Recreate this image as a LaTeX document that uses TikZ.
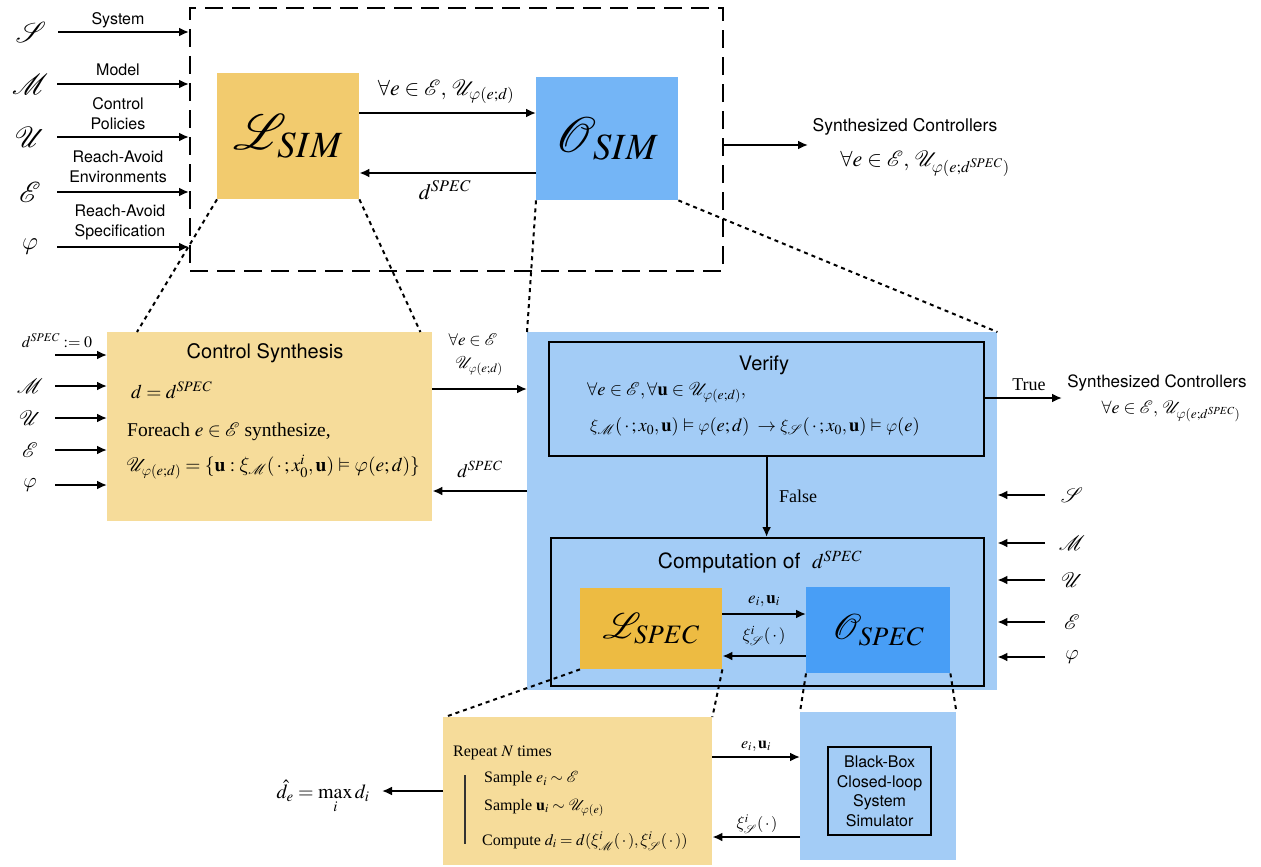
\documentclass[tikz,border=0pt]{standalone}
\IfFileExists{mathptmx.sty}{\usepackage{mathptmx}}{}
\usepackage{amssymb}
\IfFileExists{mathrsfs.sty}{\usepackage{mathrsfs}\DeclareFontFamily{U}{rsfs}{\skewchar\font127 }\DeclareFontShape{U}{rsfs}{m}{n}{<-> rsfs10}{}}{\newcommand{\mathscr}[1]{\mathcal{#1}}}
\DeclareSymbolFont{cmlet}{OML}{cmm}{m}{it}
\DeclareMathSymbol{\varphi}{\mathord}{cmlet}{"27}
\DeclareMathSymbol{\xi}{\mathord}{cmlet}{"18}
\usepackage[no-math]{fontspec}
\setmainfont{Liberation Serif}
\setsansfont{TeX Gyre Heros}
\usetikzlibrary{arrows.meta,calc}
\definecolor{lsimc}{RGB}{242,203,110}
\definecolor{osimc}{RGB}{116,181,246}
\definecolor{lightor}{RGB}{246,220,154}
\definecolor{lightbl}{RGB}{163,204,246}
\definecolor{lspecc}{RGB}{237,187,66}
\definecolor{ospecc}{RGB}{72,158,246}
\tikzset{
 arr/.style={line width=2pt,-{Latex[length=10pt,width=9pt]}},
 dots/.style={line width=2pt,dash pattern=on 4pt off 4pt},
 bigdash/.style={line width=2pt,dash pattern=on 18pt off 9pt},
 sflab/.style={font=\sffamily\fontsize{16}{20}\selectfont,align=center,inner sep=0},
 sftitle/.style={font=\sffamily\fontsize{20}{22}\selectfont,inner sep=0},
 sym/.style={font=\fontsize{29}{29}\selectfont,inner sep=0},
 symin/.style={font=\fontsize{21}{21}\selectfont,inner sep=0},
 symsm/.style={font=\fontsize{17}{17}\selectfont,inner sep=0},
 mtxt/.style={font=\fontsize{19.5}{19.5}\selectfont,inner sep=0},
 vtxt/.style={font=\fontsize{18.5}{18.5}\selectfont,inner sep=0},
 stxt/.style={font=\fontsize{16}{16}\selectfont,inner sep=0},
 box/.style={anchor=north west,inner sep=0,draw=none},
 framebox/.style={anchor=north west,inner sep=0,draw=black,line width=2.2pt},
}
\begin{document}
\begin{tikzpicture}[x=1pt,y=-1pt]
\useasboundingbox (0,0) rectangle (1261,867);

% ---------- top level ----------
\node[box,draw=black,bigdash,minimum width=533,minimum height=263] (dbox) at (189,7) {};
\node[box,fill=lsimc,minimum width=142,minimum height=126,font=\fontsize{50}{50}\selectfont] (lsim) at (217,73) {$\mathscr{L}_{SIM}$};
\node[box,fill=osimc,minimum width=142,minimum height=123,font=\fontsize{50}{50}\selectfont] (osim) at (536,77) {$\mathscr{O}_{SIM}$};

\node[sym] (sS) at (31,32) {$\mathscr{S}$};
\node[sym] (sM) at (30,84) {$\mathscr{M}$};
\node[sym] (sU) at (30,137) {$\mathscr{U}$};
\node[sym] (sE) at (30,192) {$\mathscr{E}$};
\node[sym] (sP) at (30,247) {$\varphi$};
\foreach \n in {sS,sM,sU,sE,sP}{
  \draw[arr] (\n.center) ++(27,0) coordinate (\n st) -- (\n st -| dbox.west);
}
\node[sflab] (l1) at (118,20) {System};
\node[sflab] (l2) at (118,70) {Model};
\node[sflab] (l3) at (118,114) {Control\\Policies};
\node[sflab] (l4) at (118,167) {Reach-Avoid\\Environments};
\node[sflab] (l5) at (120,222) {Reach-Avoid\\Specification};

\draw[arr] ($(lsim.north east)+(0,40)$) -- ($(osim.north west)+(0,36)$);
\node[font=\fontsize{22}{22}\selectfont\boldmath,inner sep=0] (tl1) at (446,92) {$\forall e\in\mathscr{E},\,\mathscr{U}_{\varphi(e;d)}$};
\draw[arr] ($(osim.north west)+(0,96)$) -- ($(lsim.north east)+(0,100)$);
\node[font=\fontsize{22}{22}\selectfont,inner sep=0] (tl2) at (445,190) {$d^{SPEC}$};

\coordinate (outend) at (808,145);
\draw[arr] (dbox.east |- outend) -- (outend);
\node[sflab,font=\sffamily\fontsize{17.5}{19}\selectfont] (sc1) at (905,127) {Synthesized Controllers};
\node[font=\fontsize{22}{22}\selectfont,inner sep=0] (sc2) at (925,164) {$\forall e\in\mathscr{E},\,\mathscr{U}_{\varphi(e;d^{SPEC})}$};

% ---------- control synthesis ----------
\node[box,fill=lightor,minimum width=325,minimum height=189] (csyn) at (107,332) {};
\node[sftitle] (cst) at (265,353) {Control Synthesis};
\node[mtxt,anchor=west] (cs1) at (131,390) {$d = d^{SPEC}$};
\node[mtxt,anchor=west] (cs2) at (127,432) {Foreach $e\in\mathscr{E}$ synthesize,};
\node[mtxt,anchor=west] (cs3) at (126,467) {$\mathscr{U}_{\varphi(e;d)} = \{\mathbf{u} : \xi_{\mathscr{M}}(\,\cdot\,; x_0^i, \mathbf{u}) \vDash \varphi(e;d)\}$};

\node[stxt] (d0) at (57,341) {$d^{SPEC} := 0$};
\coordinate (d0a) at (55,355);
\draw[arr] (d0a) -- (d0a -| csyn.west);
\node[symin] (cM) at (30,386) {$\mathscr{M}$};
\node[symin] (cU) at (30,418) {$\mathscr{U}$};
\node[symin] (cE) at (30,450) {$\mathscr{E}$};
\node[symin] (cP) at (30,485) {$\varphi$};
\foreach \n in {cM,cU,cE,cP}{
  \draw[arr] (\n.center) ++(25,0) coordinate (\n st) -- (\n st -| csyn.west);
}

% ---------- big blue ----------
\node[box,fill=lightbl,minimum width=470,minimum height=358] (bbox) at (527,332) {};
\draw[dots] (lsim.south west) -- ($(csyn.north west)+(30,0)$);
\draw[dots] (lsim.south east) -- ($(csyn.north east)+(-12,0)$);
\draw[dots] (osim.south west) -- (bbox.north west);
\draw[dots] (osim.south east) -- (bbox.north east);

\draw[arr] ($(csyn.north east)+(0,57)$) -- ($(bbox.north west)+(0,57)$);
\node[symsm] (ml1) at (473,340) {$\forall e\in\mathscr{E}$};
\node[symsm] (ml2) at (479,366) {$\mathscr{U}_{\varphi(e;d)}$};
\draw[arr] ($(bbox.north west)+(0,159)$) -- ($(csyn.north east)+(0,159)$);
\node[font=\fontsize{19}{19}\selectfont,inner sep=0] (ml3) at (480,469) {$d^{SPEC}$};

\node[framebox,minimum width=435,minimum height=114] (ver) at (548,341) {};
\node[sftitle] (vt) at (764,365) {Verify};
\node[vtxt,anchor=west] (v1) at (587,393) {$\forall e\in\mathscr{E}, \forall \mathbf{u}\in\mathscr{U}_{\varphi(e;d)},$};
\node[vtxt,anchor=west] (v2) at (590,427) {$\xi_{\mathscr{M}}(\,\cdot\,;x_0,\mathbf{u}) \vDash \varphi(e;d) \;\rightarrow \xi_{\mathscr{S}}(\,\cdot\,;x_0,\mathbf{u}) \vDash \varphi(e)$};

\coordinate (trueend) at (1062,398);
\draw[arr] (trueend -| ver.east) -- (trueend);
\node[mtxt,font=\fontsize{18}{18}\selectfont] (tr) at (1029,385) {True};
\node[sflab,font=\sffamily\fontsize{17}{19}\selectfont] (sc3) at (1157,383) {Synthesized Controllers};
\node[font=\fontsize{18}{18}\selectfont,inner sep=0] (sc4) at (1171,411) {$\forall e\in\mathscr{E},\,\mathscr{U}_{\varphi(e;d^{SPEC})}$};

\node[framebox,minimum width=433,minimum height=148] (comp) at (550,537) {};
\draw[arr] (ver.south) -- (ver.south |- comp.north);
\node[mtxt,font=\fontsize{18}{18}\selectfont] (fa) at (798,496) {False};
\node[sftitle,font=\sffamily\fontsize{21}{22}\selectfont] (ct) at (760,562) {Computation of \ $d^{SPEC}$};

\node[box,fill=lspecc,minimum width=142,minimum height=81,font=\fontsize{36}{36}\selectfont] (lspec) at (580,588) {$\mathscr{L}_{SPEC}$};
\node[box,fill=ospecc,minimum width=144,minimum height=86,font=\fontsize{36}{36}\selectfont] (ospec) at (806,587) {$\mathscr{O}_{SPEC}$};
\draw[arr] ($(lspec.north east)+(0,26)$) -- ($(ospec.north west)+(0,27)$);
\node[symsm] (el1) at (764,601) {$e_i, \mathbf{u}_i$};
\draw[arr] ($(ospec.north west)+(0,69)$) -- ($(lspec.north east)+(0,68)$);
\node[symsm] (el2) at (764,636) {$\xi^i_{\mathscr{S}}(\,\cdot\,)$};

\node[symin] (rS) at (1072,495) {$\mathscr{S}$};
\node[symin] (rM) at (1072,543) {$\mathscr{M}$};
\node[symin] (rU) at (1072,580) {$\mathscr{U}$};
\node[symin] (rE) at (1072,622) {$\mathscr{E}$};
\node[symin] (rP) at (1072,657) {$\varphi$};
\foreach \n in {rS,rM,rU,rE,rP}{
  \draw[arr] (\n.center) ++(-27,0) coordinate (\n st) -- (\n st -| bbox.east);
}

% ---------- bottom ----------
\node[box,fill=lightor,minimum width=269,minimum height=148] (rep) at (443,717) {};
\node[box,fill=lightbl,minimum width=156,minimum height=148] (sim) at (800,712) {};
\draw[dots] (lspec.south west) -- ($(rep.north west)+(2,0)$);
\draw[dots] (lspec.south east) -- (rep.north east);
\draw[dots] (ospec.south west) -- (sim.north west);
\draw[dots] (ospec.south east) -- (sim.north east);

\node[stxt,anchor=west] (r0) at (453,753) {Repeat $N$ times};
\draw[line width=1.2pt,black!80] (465,775) -- (465,844);
\node[stxt,anchor=west] (r1) at (484,779) {Sample $e_i\sim\mathscr{E}$};
\node[stxt,anchor=west] (r2) at (484,808) {Sample $\mathbf{u}_i\sim\mathscr{U}_{\varphi(e)}$};
\node[stxt,anchor=west] (r3) at (482,841) {Compute $d_i = d(\xi^i_{\mathscr{M}}(\,\cdot\,), \xi^i_{\mathscr{S}}(\,\cdot\,))$};

\coordinate (dh) at (382,791);
\draw[arr] (dh -| rep.west) -- (dh);
\node[font=\fontsize{20}{20}\selectfont,inner sep=0] (dhat) at (323,797) {$\displaystyle \hat{d}_e = \max_i d_i$};

\node[framebox,minimum width=103,minimum height=88] (bb) at (827,746) {};
\node[sflab,font=\sffamily\fontsize{16}{19.5}\selectfont] (bbt) at (bb.center) {Black-Box\\Closed-loop\\System\\Simulator};

\draw[arr] ($(rep.north east)+(0,40)$) -- ($(sim.north west)+(0,45)$);
\node[stxt] (bl1) at (756,746) {$e_i, \mathbf{u}_i$};
\draw[arr] ($(sim.north west)+(0,125)$) -- ($(rep.north east)+(0,120)$);
\node[stxt] (bl2) at (757,824) {$\xi^i_{\mathscr{S}}(\,\cdot\,)$};
\end{tikzpicture}
\end{document}
